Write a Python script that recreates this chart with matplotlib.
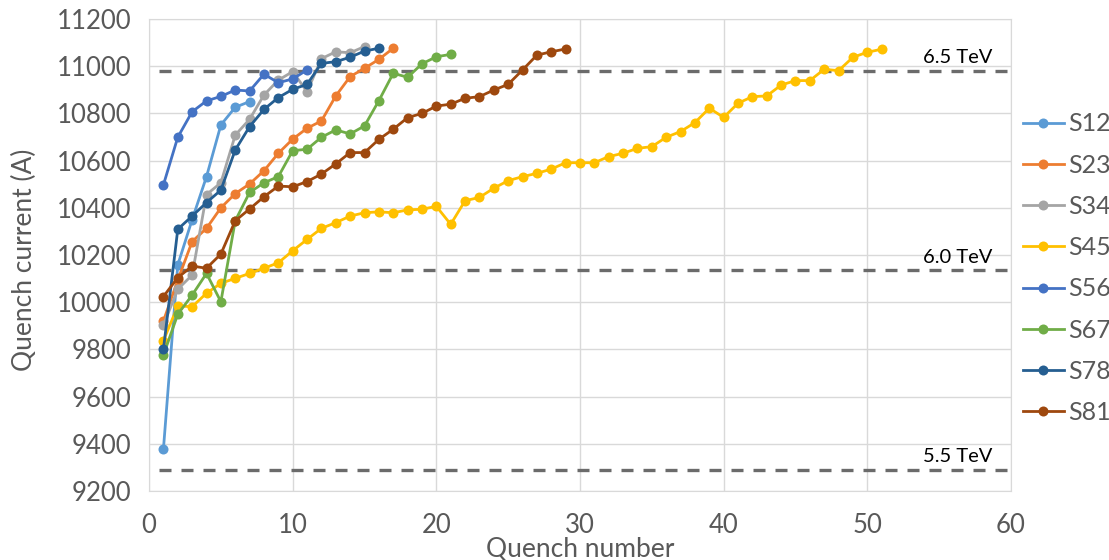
import matplotlib
matplotlib.use('Agg')
import matplotlib.pyplot as plt

# quench currents (A) per sector, quench number starts at 1
s12 = [9377, 10158, 10350, 10532, 10751, 10826, 10850]
s23 = [9920, 10094, 10257, 10313, 10400, 10460, 10501, 10557, 10631, 10691,
       10737, 10768, 10874, 10956, 10991, 11029, 11076]
s34 = [9903, 10055, 10115, 10456, 10506, 10708, 10775, 10878, 10941, 10977,
       10892, 11032, 11061, 11057, 11083]
s45 = [9837, 9984, 9981, 10038, 10080, 10101, 10122, 10144, 10167, 10218,
       10266, 10313, 10337, 10365, 10379, 10383, 10379, 10391, 10394, 10406,
       10330, 10430, 10444, 10483, 10515, 10532, 10546, 10564, 10591, 10591,
       10591, 10617, 10631, 10652, 10659, 10699, 10723, 10761, 10822, 10783,
       10843, 10871, 10874, 10920, 10939, 10939, 10987, 10981, 11038, 11059, 11072]
s56 = [10497, 10699, 10807, 10853, 10872, 10899, 10895, 10966, 10930, 10946, 10984]
s67 = [9776, 9949, 10030, 10122, 10002, 10345, 10465, 10506, 10532, 10642,
       10648, 10699, 10730, 10713, 10747, 10854, 10970, 10953, 11010, 11040, 11050]
s78 = [9800, 10309, 10365, 10422, 10475, 10645, 10744, 10817, 10867, 10902,
       10923, 11012, 11019, 11038, 11064, 11076]
s81 = [10024, 10104, 10153, 10144, 10204, 10345, 10395, 10447, 10492, 10489,
       10511, 10543, 10586, 10634, 10634, 10690, 10733, 10782, 10800, 10831,
       10839, 10864, 10871, 10899, 10923, 10984, 11047, 11061, 11073]

sectors = ['S12', 'S23', 'S34', 'S45', 'S56', 'S67', 'S78', 'S81']
series = [s12, s23, s34, s45, s56, s67, s78, s81]
colors = ['#5B9BD5', '#ED7D31', '#A5A5A5', '#FFC000',
          '#4472C4', '#70AD47', '#255E91', '#9E480E']

# energy levels (dashed lines)
levels = [10980, 10135, 9290]
level_labels = ['6.5 TeV', '6.0 TeV', '5.5 TeV']

plt.rcParams['font.family'] = ['Lato', 'DejaVu Sans']
grey_txt = '#595959'

fig = plt.figure(figsize=(11.09, 5.6), dpi=100)
ax = fig.add_axes([0.1344, 0.1232, 0.9116 - 0.1344, 0.9661 - 0.1232])

for lev, lab in zip(levels, level_labels):
    ax.plot([0, 60], [lev, lev], color='#6B6B6B', lw=2.4,
            linestyle=(3.6, (3.6, 3.0)), zorder=2)
    ax.annotate(lab, xy=(58.7, lev), xytext=(0, 5.5), textcoords='offset points',
                ha='right', va='baseline', fontsize=14.5, color='black')

for name, vals, c in zip(sectors, series, colors):
    n = list(range(1, len(vals) + 1))
    ax.plot(n, vals, color=c, lw=2.0, marker='o', markersize=7.2,
            markeredgewidth=0, label=name, zorder=3)

ax.set_xlim(0, 60)
ax.set_ylim(9200, 11200)
ax.set_xticks(range(0, 61, 10))
ax.set_yticks(range(9200, 11201, 200))
ax.grid(True, color='#D9D9D9', lw=1.0)
ax.set_axisbelow(True)
for sp in ax.spines.values():
    sp.set_color('#D9D9D9')
ax.tick_params(length=0, labelsize=18.5, labelcolor=grey_txt)
ax.tick_params(axis='x', pad=16)
ax.tick_params(axis='y', pad=13)

ax.set_ylabel('Quench current (A)', fontsize=19, color=grey_txt)
ax.set_xlabel('Quench number', fontsize=19, color=grey_txt)
ax.xaxis.set_label_coords(0.5, -0.123)
ax.xaxis.label.set_va('center')
ax.yaxis.label.set_va('center')
ax.yaxis.set_label_coords(-0.145, 0.49)

fig.legend(loc='center left', bbox_to_anchor=(0.9224, 0.521), frameon=False,
           fontsize=18, labelcolor=grey_txt, borderpad=0, borderaxespad=0,
           handlelength=1.64, handletextpad=0.16, labelspacing=0.73)

fig.savefig('out.png', dpi=100)
